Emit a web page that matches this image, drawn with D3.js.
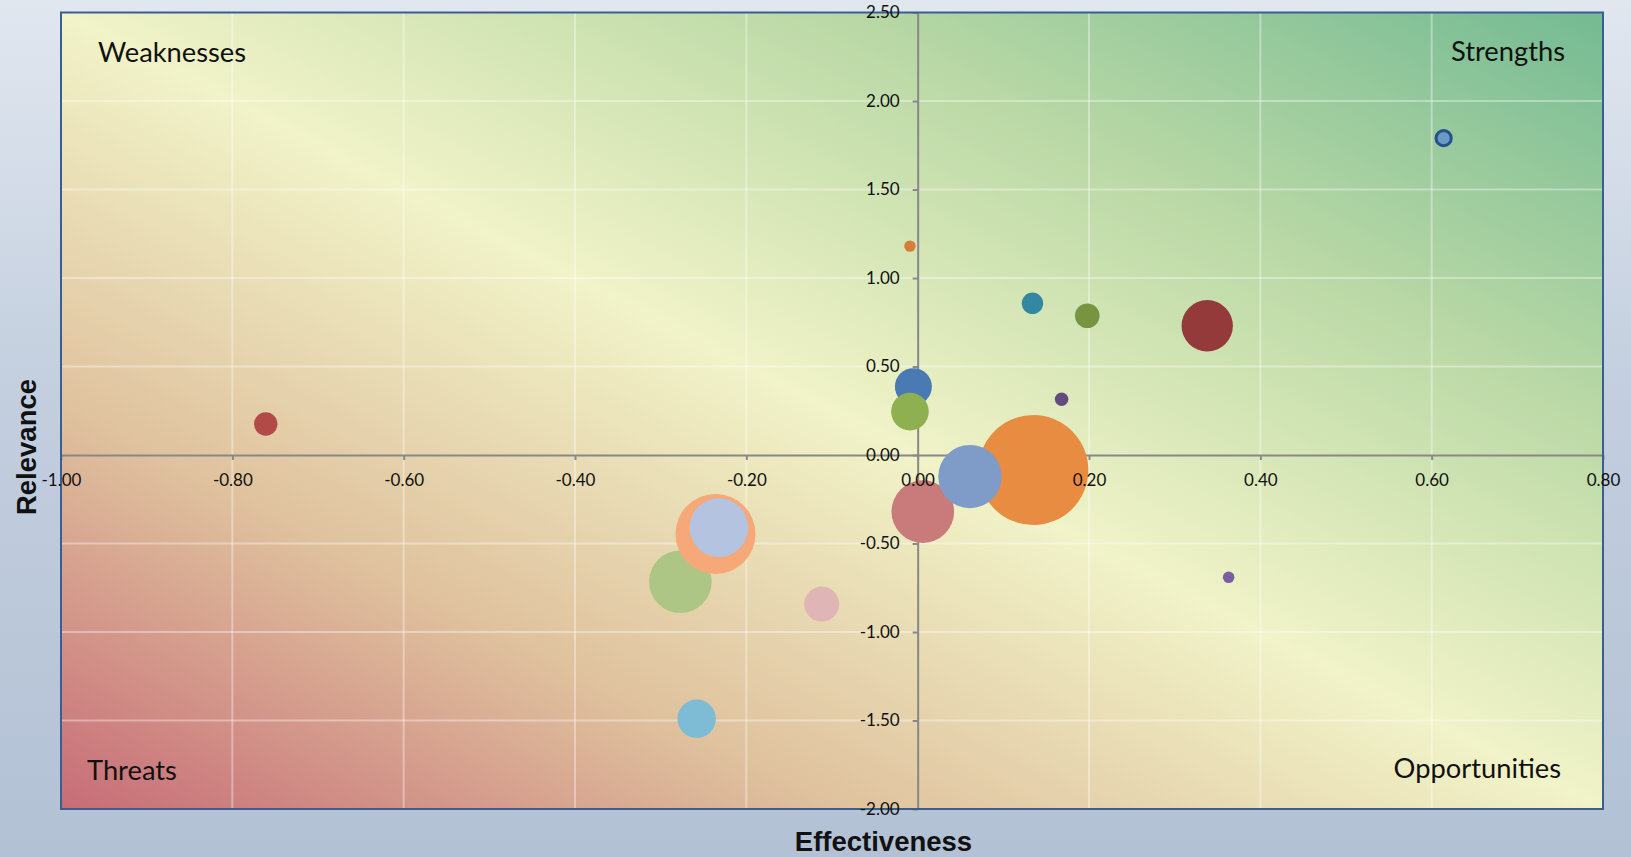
<!DOCTYPE html>
<html>
<head>
<meta charset="utf-8">
<script src="https://cdn.jsdelivr.net/npm/d3@7/dist/d3.min.js"></script>
<style>
  html, body { margin: 0; padding: 0; background: #c9d3e2; }
  svg { display: block; }
</style>
</head>
<body>
<svg id="chart" width="1631" height="857"></svg>
<script>
// Bubble data: effectiveness (x), relevance (y) and relative bubble size
const effectiveness = [0.614, -0.009, 0.134, 0.198, 0.338, -0.005, -0.009, 0.168, 0.006, 0.135, 0.061, -0.277, -0.236, -0.232, -0.112, -0.258, -0.761, 0.363];
const relevance     = [1.79, 1.18, 0.857, 0.787, 0.73, 0.386, 0.245, 0.315, -0.32, -0.085, -0.122, -0.716, -0.446, -0.41, -0.842, -1.49, 0.175, -0.691];
const bubbleSize    = [1.9, 1.07, 3.8, 5.0, 21.8, 11.3, 11.7, 1.5, 32.4, 100, 33.2, 32.4, 52.9, 28.4, 10.1, 12.2, 4.5, 1.1];

// Fill colour of each bubble, in the same order
const bubbleColor = ["#6a99c1", "#d67d3b", "#3487a0", "#789440", "#953a3a", "#4a7ab4", "#8fb050", "#624b7f",
                     "#c97b7b", "#e88c41", "#7f9cc9", "#adc686", "#f7a878", "#b4c4e0", "#dfb5b5", "#7dbcd4",
                     "#b24a48", "#7a5ea0"];
// Bubbles drawn with a dark rim
const outlinedBubbles = [0];

// Axes
const xTicks = [-1.0, -0.8, -0.6, -0.4, -0.2, 0.0, 0.2, 0.4, 0.6, 0.8];
const yTicks = [-2.0, -1.5, -1.0, -0.5, 0.0, 0.5, 1.0, 1.5, 2.0, 2.5];
const xTitle = "Effectiveness";
const yTitle = "Relevance";

// Quadrant captions: top-left, top-right, bottom-left, bottom-right
const quadrantLabels = ["Weaknesses", "Strengths", "Threats", "Opportunities"];

const svg = d3.select("#chart");
const W = 1631, H = 857;
const plot = { left: 61, top: 12.5, right: 1603, bottom: 809 };
const tickFont = "Lato, 'Open Sans', sans-serif";
const titleFont = "'Liberation Sans', Arial, sans-serif";
const axisGrey = "#888888";

const defs = svg.append("defs");

// page background: soft blue-grey vertical wash
const bg = defs.append("linearGradient").attr("id", "pageBg")
  .attr("x1", 0).attr("y1", 0).attr("x2", 0).attr("y2", 1);
[[0, "#e1e7ef"], [0.45, "#c3cfdf"], [1, "#b3c1d5"]].forEach(([o, c]) =>
  bg.append("stop").attr("offset", o).attr("stop-color", c));

// plot area: red (bottom-left) -> yellow -> green (top-right)
const pg = defs.append("linearGradient").attr("id", "plotBg")
  .attr("x1", 0).attr("y1", 1).attr("x2", 1).attr("y2", 0);
[[0, "#c76c77"], [0.25, "#dfc19d"], [0.5, "#f1f3c8"], [0.75, "#b9d8a5"], [1, "#74ba93"]].forEach(([o, c]) =>
  pg.append("stop").attr("offset", o).attr("stop-color", c));

svg.append("rect").attr("width", W).attr("height", H).attr("fill", "url(#pageBg)");

const x = d3.scaleLinear().domain([-1, 0.8]).range([plot.left, plot.right]);
const y = d3.scaleLinear().domain([-2, 2.5]).range([plot.bottom, plot.top]);
const r = d3.scaleSqrt().domain([0, d3.max(bubbleSize)]).range([0, 55]);
const fmt = v => v.toFixed(2);

svg.append("rect")
  .attr("x", plot.left).attr("y", plot.top)
  .attr("width", plot.right - plot.left).attr("height", plot.bottom - plot.top)
  .attr("fill", "url(#plotBg)");

// gridlines
const grid = svg.append("g").attr("stroke", "rgba(255,255,255,0.36)").attr("stroke-width", 2);
grid.selectAll("line.vx").data(xTicks.filter(v => v > -1 && v < 0.8 && v !== 0)).join("line")
  .attr("class", "vx")
  .attr("x1", d => x(d)).attr("x2", d => x(d)).attr("y1", plot.top).attr("y2", plot.bottom);
grid.selectAll("line.hy").data(yTicks.filter(v => v > -2 && v < 2.5 && v !== 0)).join("line")
  .attr("class", "hy")
  .attr("y1", d => y(d)).attr("y2", d => y(d)).attr("x1", plot.left).attr("x2", plot.right);

// axis lines and tick marks, crossing at the origin (beneath the bubbles)
const xLine = svg.append("g").attr("transform", `translate(0,${y(0)})`)
  .call(d3.axisBottom(x).tickValues(xTicks).tickFormat("").tickSizeInner(5).tickSizeOuter(0));
const yLine = svg.append("g").attr("transform", `translate(${x(0)},0)`)
  .call(d3.axisLeft(y).tickValues(yTicks).tickFormat("").tickSizeInner(5).tickSizeOuter(0));
[xLine, yLine].forEach(g => {
  g.select(".domain").attr("stroke", axisGrey).attr("stroke-width", 2);
  g.selectAll(".tick line").attr("stroke", axisGrey).attr("stroke-width", 2);
});

// bubbles
const idx = d3.range(effectiveness.length);
svg.append("g").selectAll("circle").data(idx).join("circle")
  .attr("cx", i => x(effectiveness[i]))
  .attr("cy", i => y(relevance[i]))
  .attr("r", i => r(bubbleSize[i]))
  .attr("fill", i => bubbleColor[i])
  .attr("stroke", i => outlinedBubbles.includes(i) ? "#24508e" : "none")
  .attr("stroke-width", 3);

// plot border
svg.append("rect")
  .attr("x", plot.left).attr("y", plot.top)
  .attr("width", plot.right - plot.left).attr("height", plot.bottom - plot.top)
  .attr("fill", "none").attr("stroke", "#3b5e92").attr("stroke-width", 2);

// tick labels, drawn over the bubbles
const xLab = svg.append("g").attr("transform", `translate(0,${y(0)})`)
  .call(d3.axisBottom(x).tickValues(xTicks).tickFormat(fmt).tickSize(0).tickPadding(18.5));
const yLab = svg.append("g").attr("transform", `translate(${x(0)},0)`)
  .call(d3.axisLeft(y).tickValues(yTicks).tickFormat(fmt).tickSize(0).tickPadding(18));
[xLab, yLab].forEach(g => {
  g.select(".domain").remove();
  g.selectAll(".tick line").remove();
  g.selectAll(".tick text").attr("fill", "#111").attr("font-family", tickFont).attr("font-size", 17);
});

// quadrant captions
const q = svg.append("g").attr("font-family", tickFont).attr("font-size", 27.3).attr("fill", "#111");
q.append("text").attr("x", 98).attr("y", 61.5).text(quadrantLabels[0]);
q.append("text").attr("x", 1565).attr("y", 60.5).attr("text-anchor", "end").text(quadrantLabels[1]);
q.append("text").attr("x", 87).attr("y", 780).text(quadrantLabels[2]);
q.append("text").attr("x", 1561).attr("y", 777.5).attr("text-anchor", "end").text(quadrantLabels[3]);

// axis titles
svg.append("text").attr("x", 883.5).attr("y", 850.5).attr("text-anchor", "middle")
  .attr("font-family", titleFont).attr("font-weight", "bold")
  .attr("font-size", 27.5).attr("fill", "#111").text(xTitle);
svg.append("text").attr("transform", "translate(36,447) rotate(-90)").attr("text-anchor", "middle")
  .attr("font-family", titleFont).attr("font-weight", "bold")
  .attr("font-size", 27.5).attr("fill", "#111").text(yTitle);
</script>
</body>
</html>
